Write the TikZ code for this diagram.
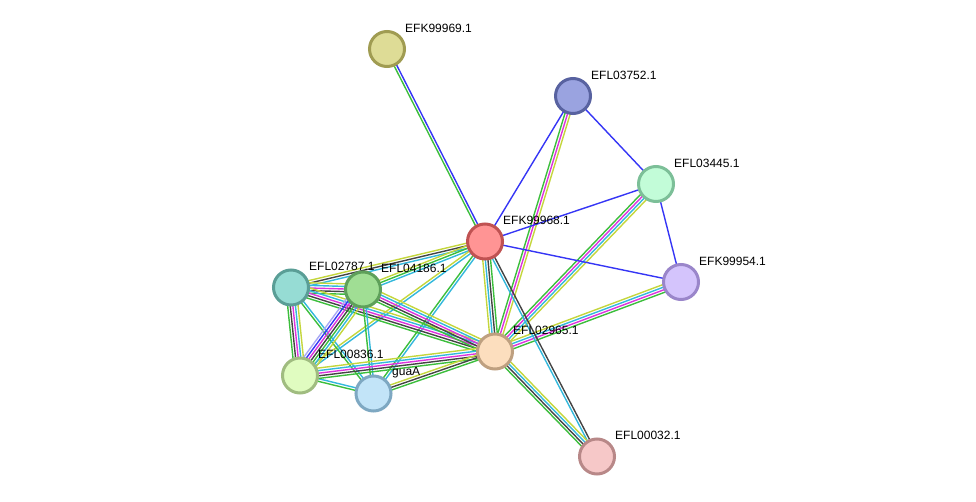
\documentclass[tikz,border=0pt]{standalone}
\usepackage{fontspec}
\setmainfont{Liberation Sans}
\usetikzlibrary{calc}
\pgfdeclarelayer{edges}
\pgfsetlayers{edges,main}
\definecolor{cgreen}{HTML}{3CBE3C}
\definecolor{cblue}{HTML}{3535F5}
\definecolor{cmag}{HTML}{DD33DD}
\definecolor{ccyan}{HTML}{33B8DC}
\definecolor{cyel}{HTML}{C4D63C}
\definecolor{cblack}{HTML}{444444}
\definecolor{chom}{HTML}{A8A8F4}
\tikzset{
  prot/.style={circle, draw, line width=3pt, minimum size=35pt, inner sep=0pt},
  lab/.style={anchor=west, font=\fontsize{12}{14}\selectfont, inner sep=0pt, text=black},
  eline/.style={line width=1.4pt}
}
\newcommand\medge[3]{%
  \xdef\ecount{0}%
  \foreach \c in {#3}{\xdef\ecount{\the\numexpr\ecount+1\relax}}%
  \foreach \c [count=\i] in {#3}{%
    \pgfmathsetmacro\eoff{(\i-(\ecount+1)/2)*2.6}%
    \draw[eline,\c] ($(#1)!\eoff pt!90:(#2)$) -- ($(#2)!\eoff pt!-90:(#1)$);
  }}
\begin{document}
\begin{tikzpicture}[x=1pt,y=-1pt]
\useasboundingbox (0,0) rectangle (976,502);
\node[prot, fill={rgb,255:red,222;green,220;blue,150}, draw={rgb,255:red,160;green,156;blue,82}] (k69) at (387,49) {};
\node[prot, fill={rgb,255:red,154;green,163;blue,224}, draw={rgb,255:red,88;green,98;blue,160}] (l52) at (573,96) {};
\node[prot, fill={rgb,255:red,194;green,252;blue,216}, draw={rgb,255:red,124;green,191;blue,152}] (l45) at (656,184) {};
\node[prot, fill={rgb,255:red,255;green,148;blue,148}, draw={rgb,255:red,192;green,82;blue,82}] (k68) at (485,241.5) {};
\node[prot, fill={rgb,255:red,212;green,196;blue,252}, draw={rgb,255:red,154;green,134;blue,202}] (k54) at (681,282) {};
\node[prot, fill={rgb,255:red,150;green,220;blue,212}, draw={rgb,255:red,90;green,158;blue,150}] (l87) at (291,287.5) {};
\node[prot, fill={rgb,255:red,160;green,222;blue,148}, draw={rgb,255:red,94;green,160;blue,90}] (l86) at (363,289.5) {};
\node[prot, fill={rgb,255:red,252;green,222;blue,190}, draw={rgb,255:red,190;green,160;blue,128}] (l65) at (495,351.5) {};
\node[prot, fill={rgb,255:red,224;green,252;blue,192}, draw={rgb,255:red,160;green,188;blue,128}] (l36) at (300,375.5) {};
\node[prot, fill={rgb,255:red,194;green,228;blue,248}, draw={rgb,255:red,126;green,168;blue,194}] (gua) at (373.5,393.5) {};
\node[prot, fill={rgb,255:red,246;green,200;blue,200}, draw={rgb,255:red,184;green,136;blue,136}] (l32) at (597,456.5) {};
\node[lab] (t69) at (405,28) {EFK99969.1};
\node[lab] (t52) at (591,75) {EFL03752.1};
\node[lab] (t45) at (674,163) {EFL03445.1};
\node[lab] (t68) at (503,220) {EFK99968.1};
\node[lab] (t54) at (699,261) {EFK99954.1};
\node[lab] (t87) at (309,266) {EFL02787.1};
\node[lab] (t86) at (381,268) {EFL04186.1};
\node[lab] (t65) at (513,330) {EFL02965.1};
\node[lab] (t36) at (318,354) {EFL00836.1};
\node[lab] (tgu) at (392,373) {guaA};
\node[lab] (t32) at (615,435) {EFL00032.1};
\begin{pgfonlayer}{edges}
\medge{k69}{k68}{cgreen,cblue}
\medge{l52}{k68}{cblue}
\medge{l52}{l45}{cblue}
\medge{l52}{l65}{cgreen,cmag,cyel}
\medge{l45}{k68}{cblue}
\medge{l45}{k54}{cblue}
\medge{l45}{l65}{cgreen,cmag,ccyan,cyel}
\medge{k68}{k54}{cblue}
\medge{k54}{l65}{cyel,ccyan,cmag,cgreen}
\medge{k68}{l65}{cyel,ccyan,cblack,cgreen}
\medge{k68}{l32}{ccyan,cblack}
\medge{l65}{l32}{cgreen,cblack,ccyan,cyel}
\medge{k68}{l87}{cyel,cblack,ccyan}
\medge{k68}{l86}{cyel,cgreen,ccyan}
\medge{k68}{l36}{cyel,ccyan}
\medge{k68}{gua}{cgreen,ccyan}
\medge{l87}{l86}{cgreen,cblack,cmag,ccyan,cyel}
\medge{l87}{l65}{cgreen,cblack,cmag,ccyan,cyel}
\medge{l86}{l65}{cgreen,cblack,cmag,ccyan,cyel}
\medge{l87}{l36}{cgreen,cblack,cmag,ccyan,cyel}
\medge{l87}{gua}{cgreen,ccyan}
\medge{l86}{l36}{chom,cblue,cmag,cblack,cgreen,ccyan,cyel}
\medge{l86}{gua}{cgreen,ccyan}
\medge{l36}{gua}{cgreen,ccyan}
\medge{l36}{l65}{cgreen,cblack,cmag,ccyan,cyel}
\medge{gua}{l65}{cgreen,cblack,cyel}
\end{pgfonlayer}
\end{tikzpicture}
\end{document}
